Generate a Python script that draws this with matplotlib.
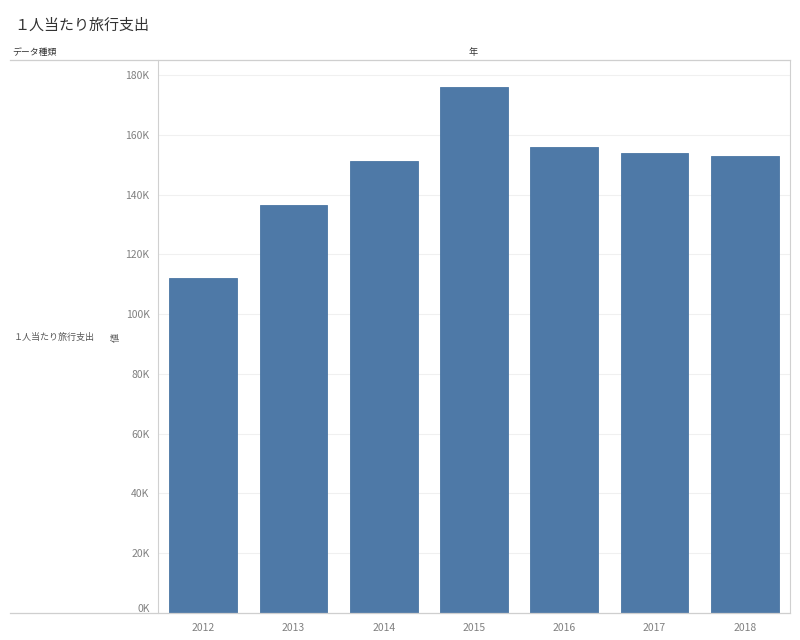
import matplotlib
matplotlib.use('Agg')
import matplotlib.pyplot as plt
from matplotlib.lines import Line2D
from matplotlib.transforms import offset_copy

plt.rcParams['font.family'] = ['Noto Sans CJK JP', 'DejaVu Sans']

# data
years = ['2012', '2013', '2014', '2015', '2016', '2017', '2018']
spending = [112000, 136500, 151200, 176000, 156000, 153800, 153000]
yticks = [0, 20000, 40000, 60000, 80000, 100000, 120000, 140000, 160000, 180000]
ytick_labels = ['0K', '20K', '40K', '60K', '80K', '100K', '120K', '140K', '160K', '180K']

W, H = 800, 640
fig = plt.figure(figsize=(8, 6.4), dpi=100)
ax = fig.add_axes([158 / W, (H - 613) / H, (790 - 158) / W, (613 - 60) / H])

x = list(range(len(years)))
ax.bar(x, spending, width=0.75, color='#4e79a7', edgecolor='#4a76a4', linewidth=0.6, zorder=2)

ax.set_xlim(-0.5, len(years) - 0.5)
ax.set_ylim(0, 185000)
ax.set_xticks(x)
ax.set_xticklabels(years)
ax.set_yticks(yticks)
ax.set_yticklabels(ytick_labels)
ax.tick_params(axis='both', length=0, labelsize=7.5, labelcolor='#808080', pad=6)
ax.tick_params(axis='x', pad=7)
ax.yaxis.grid(True, color='#f0f0f0', linewidth=0.8, zorder=0)

# the 0K label sits a little above the baseline
zero_lbl = ax.get_yticklabels()[0]
zero_lbl.set_transform(offset_copy(zero_lbl.get_transform(), fig=fig, x=0, y=5, units='dots'))

for side in ['top', 'bottom']:
    ax.spines[side].set_visible(False)
ax.spines['left'].set_color('#d0d0d0')
ax.spines['right'].set_color('#d0d0d0')

# header / row lines that extend into the label pane
fig.add_artist(Line2D([10 / W, 790 / W], [(H - 60) / H] * 2, color='#cfcfcf', linewidth=0.9))
fig.add_artist(Line2D([10 / W, 790 / W], [(H - 613) / H] * 2, color='#cfcfcf', linewidth=0.9))

fig.text(14 / W, (H - 26) / H, '１人当たり旅行支出', fontsize=10.8, color='#333333', va='center')
fig.text(12 / W, (H - 53) / H, 'データ種類', fontsize=6.4, color='#333333', va='center')
fig.text(473 / W, (H - 52) / H, '年', fontsize=6.6, color='#333333', va='center', ha='center')
fig.text(14 / W, (H - 337) / H, '１人当たり旅行支出', fontsize=6.5, color='#555555', va='center')
fig.text(116 / W, (H - 337) / H, '値', fontsize=6.6, color='#555555', va='center', ha='center', rotation=90)

fig.savefig('out.png', dpi=100, facecolor='white')
